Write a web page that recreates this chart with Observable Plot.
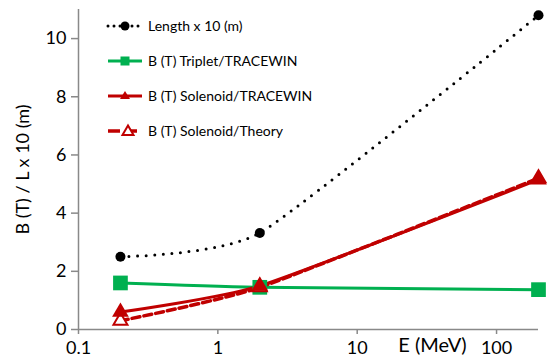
<!DOCTYPE html>
<html><head><meta charset="utf-8">
<script src="https://cdn.jsdelivr.net/npm/d3@7"></script>
<script src="https://cdn.jsdelivr.net/npm/@observablehq/plot@0.6"></script>
<style>
body{margin:0;background:#fff;font-family:Lato, sans-serif}
#wrap{position:relative;width:551px;height:362px}
#legend{position:absolute;left:106px;top:8px;}
.item{display:flex;align-items:center;height:35px;font-size:14px;color:#000}
.item svg{margin-right:4px}
</style></head><body><div id="wrap"><div id="legend"></div></div>
<script>
// Data
const energies = [0.2, 2, 200];            // E (MeV)
const lengthX10 = [2.5, 3.32, 10.8];        // Length x 10 (m)
const tripletB = [1.6, 1.45, 1.37];         // B (T) Triplet/TRACEWIN
const solenoidB = [0.6, 1.5, 5.15];         // B (T) Solenoid/TRACEWIN
const theoryB = [0.3, 1.45, 5.2];           // B (T) Solenoid/Theory
const seriesNames = ["Length x 10 (m)", "B (T) Triplet/TRACEWIN", "B (T) Solenoid/TRACEWIN", "B (T) Solenoid/Theory"];
const xTicks = [0.1, 1, 10, 100];
const yTicks = [0, 2, 4, 6, 8, 10];
const xDomain = [0.1, 200];
const yDomain = [0, 11];
const xTitle = "E (MeV)";
const yTitle = "B (T) / L x 10 (m)";

const black = "#000", green = "#00b050", red = "#c00000", gray = "#898989";
const data = energies.map((e, i) => ({e, len: lengthX10[i], trip: tripletB[i], sol: solenoidB[i], th: theoryB[i]}));
const smooth = d3.curveCardinal.tension(0.45);

const chart = Plot.plot({
  width: 551, height: 362,
  marginLeft: 78, marginRight: 13, marginTop: 9, marginBottom: 33,
  style: {fontFamily: "Lato, sans-serif", fontSize: "18px", color: "#000", background: "#fff", overflow: "visible"},
  x: {type: "log", domain: xDomain},
  y: {domain: yDomain},
  marks: [
    Plot.axisY({ticks: yTicks, tickSize: 7, tickPadding: 5, stroke: gray, strokeWidth: 1.5, tickFormat: d => String(d), label: yTitle, labelAnchor: "center", labelArrow: "none", labelOffset: 62, fontSize: 18}),
    Plot.axisX({ticks: xTicks, tickSize: 5, tickPadding: 7, stroke: gray, strokeWidth: 1.5, tickFormat: d => String(d), label: null, fontSize: 18}),
    Plot.ruleX([xDomain[0]], {stroke: gray, strokeWidth: 1.5}),
    Plot.ruleY([yDomain[0]], {stroke: gray, strokeWidth: 1.5}),
    Plot.text([xTitle], {frameAnchor: "bottom", dx: 124, dy: 22, fontSize: 20, fill: "#000"}),
    // lines
    Plot.line(data, {x: "e", y: "len", stroke: black, strokeWidth: 3, strokeDasharray: "0,8.6", strokeLinecap: "round", curve: smooth}),
    Plot.line(data, {x: "e", y: "trip", stroke: green, strokeWidth: 3, curve: smooth}),
    Plot.line(data, {x: "e", y: "th", stroke: red, strokeWidth: 3.5, strokeDasharray: "8,4", curve: smooth}),
    Plot.line(data, {x: "e", y: "sol", stroke: red, strokeWidth: 3, curve: smooth}),
    // markers
    Plot.dot(data, {x: "e", y: "len", r: 5, fill: black, stroke: "none"}),
    Plot.dot(data, {x: "e", y: "trip", symbol: "square", r: 8.3, fill: green, stroke: "none"}),
    Plot.dot(data, {x: "e", y: "th", symbol: "triangle", r: 5.2, fill: "#fff", stroke: red, strokeWidth: 2}),
    Plot.dot(data, {x: "e", y: "sol", symbol: "triangle", r: 6.2, fill: red, stroke: "none"})
  ]
});
document.getElementById("wrap").prepend(chart);

// Legend (HTML overlay)
const sym = [
  `<svg width="38" height="20"><line x1="2" y1="10" x2="36" y2="10" stroke="${black}" stroke-width="3" stroke-linecap="round" stroke-dasharray="0,6"/><circle cx="19" cy="10" r="4.5" fill="${black}"/></svg>`,
  `<svg width="38" height="20"><line x1="2" y1="10" x2="36" y2="10" stroke="${green}" stroke-width="3"/><rect x="14.5" y="5.5" width="9" height="9" fill="${green}"/></svg>`,
  `<svg width="38" height="20"><line x1="2" y1="10" x2="36" y2="10" stroke="${red}" stroke-width="3"/><path d="M19,5 L24,13 L14,13 Z" fill="${red}"/></svg>`,
  `<svg width="38" height="20"><line x1="2" y1="10" x2="36" y2="10" stroke="${red}" stroke-width="3.5" stroke-dasharray="12,5"/><path d="M22,4.5 L27.5,14 L16.5,14 Z" fill="#fff" stroke="${red}" stroke-width="2"/></svg>`
];
const legend = document.getElementById("legend");
seriesNames.forEach((n, i) => {
  const d = document.createElement("div");
  d.className = "item";
  d.innerHTML = sym[i] + `<span>${n}</span>`;
  legend.appendChild(d);
});
</script></body></html>
